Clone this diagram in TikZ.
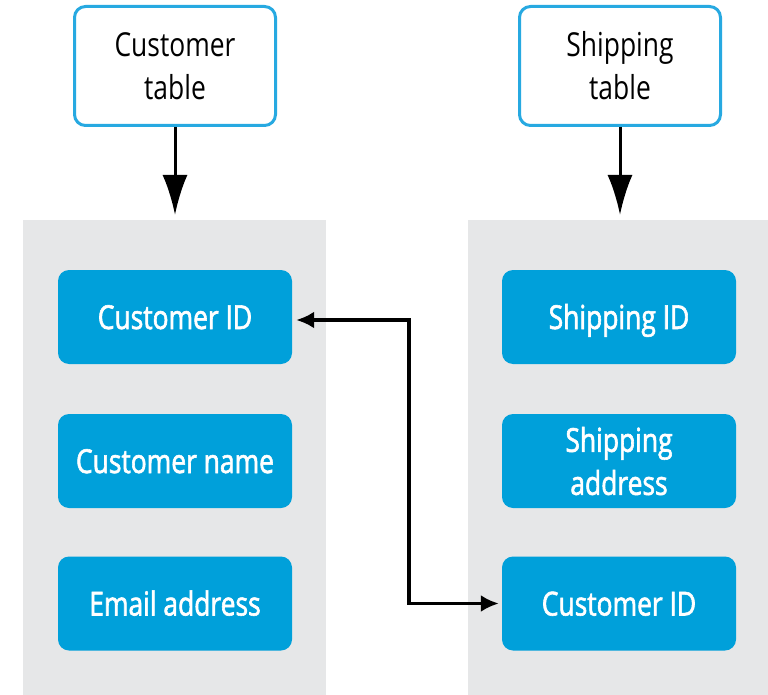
\documentclass[tikz,border=0pt]{standalone}
\usepackage{fontspec}
\setmainfont{Open Sans}[FakeStretch=0.8]
\newfontfamily\fieldfont{Open Sans}[FakeStretch=0.8, FakeBold=1.8]
\usetikzlibrary{arrows.meta}
\definecolor{fieldblue}{RGB}{0,160,218}
\definecolor{tableline}{RGB}{39,169,225}
\definecolor{panelgray}{RGB}{230,231,232}
\tikzset{
  panel/.style={fill=panelgray, draw=none, inner sep=0pt, anchor=north west},
  tablebox/.style={draw=tableline, line width=3pt, fill=white, rounded corners=11pt,
    minimum width=201pt, minimum height=119pt, inner sep=0pt, align=center,
    font=\fontsize{33}{43}\selectfont, text=black},
  fieldbox/.style={fill=fieldblue, draw=none, rounded corners=11pt,
    minimum width=234pt, minimum height=94pt, inner sep=0pt, align=center,
    font=\fieldfont\fontsize{33}{43}\selectfont, text=white},
  oneline/.style={text height=30pt, text depth=6pt},
  feed/.style={line width=3pt, -{Latex[length=40pt,width=25pt]}, shorten >=5pt},
  link/.style={line width=3.5pt, {Latex[length=18pt,width=17pt]}-{Latex[length=18pt,width=17pt]},
    shorten <=4pt, shorten >=3pt},
}
\begin{document}
\begin{tikzpicture}[x=1pt,y=-1pt]
  \useasboundingbox (0,0) rectangle (768,695);
  \fill[white] (0,0) rectangle (768,695);

  % gray table panels
  \node[panel, minimum width=303pt, minimum height=475pt] (lpanel) at (23,220) {};
  \node[panel, minimum width=300pt, minimum height=475pt] (rpanel) at (468,220) {};

  % table headers
  \node[tablebox] (ctab) at (175,66) {Customer\\table};
  \node[tablebox] (stab) at (620,66) {Shipping\\table};

  % customer fields
  \node[fieldbox, oneline] (cid)   at (175,317)   {Customer ID};
  \node[fieldbox, oneline] (cname) at (175,461)   {Customer name};
  \node[fieldbox, oneline] (email) at (175,603.5) {Email address};

  % shipping fields
  \node[fieldbox, oneline] (sid)   at (619,317)   {Shipping ID};
  \node[fieldbox] (saddr) at (619,461)   {Shipping\\address};
  \node[fieldbox, oneline] (scid)  at (619,603.5) {Customer ID};

  % headers feed their panels
  \draw[feed] (ctab.south) -- (ctab.south |- lpanel.north);
  \draw[feed] (stab.south) -- (stab.south |- rpanel.north);

  % foreign key link
  \coordinate (bend) at (409,0);
  \draw[link] ([yshift=-3pt]cid.east) -- ([yshift=-3pt]cid.east -| bend) |- (scid.west);
\end{tikzpicture}
\end{document}
